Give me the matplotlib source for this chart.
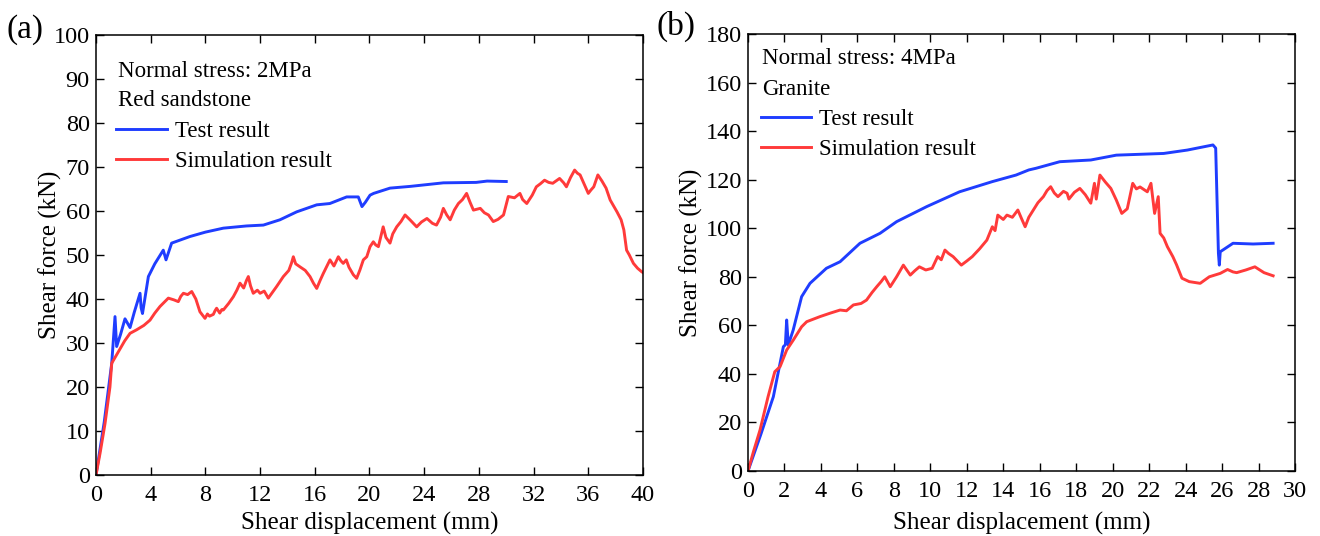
import matplotlib
matplotlib.use('Agg')
import matplotlib.pyplot as plt

# (a) red sandstone, normal stress 2 MPa
a_test_x = [0, 0.6, 1.15, 1.39, 1.51, 1.8, 2.12, 2.49, 2.8, 3.22, 3.3, 3.4, 3.83, 4.3, 4.92, 5.12, 5.53,
            6.87, 8.0, 9.31, 11.0, 12.24, 13.45, 14.67, 16.14, 17.1, 18.33, 19.18, 19.45, 19.7, 20.04,
            20.3, 21.5, 23.0, 25.4, 27.8, 28.6, 30.0]
a_test_y = [0, 12, 25.4, 36, 29.2, 32, 35.5, 33.5, 37, 41.3, 38, 36.7, 45.1, 48, 51.1, 48.9, 52.7,
            54.2, 55.2, 56.1, 56.6, 56.8, 58, 59.8, 61.4, 61.7, 63.2, 63.2, 61.0, 62, 63.6,
            64, 65.2, 65.6, 66.4, 66.5, 66.8, 66.7]

a_sim_x = [0, 0.3, 0.66, 1.02, 1.15, 1.63, 2.1, 2.49, 2.97, 3.5, 3.95, 4.3, 4.68, 5.0, 5.29, 5.7, 6.02,
           6.2, 6.39, 6.7, 7.0, 7.3, 7.6, 7.97, 8.15, 8.3, 8.58, 8.7, 8.82, 9.05, 9.2, 9.31, 9.7,
           10.04, 10.3, 10.53, 10.8, 11.0, 11.14, 11.3, 11.5, 11.8, 12.0, 12.3, 12.6, 12.9, 13.2,
           13.5, 13.7, 14.1, 14.3, 14.43, 14.6, 14.92, 15.3, 15.65, 15.9, 16.14, 16.4, 16.62, 16.9,
           17.11, 17.4, 17.72, 17.9, 18.08, 18.3, 18.5, 18.82, 19.06, 19.3, 19.55, 19.8, 20.04,
           20.28, 20.45, 20.65, 21.0, 21.2, 21.5, 21.7, 21.99, 22.3, 22.6, 22.96, 23.2, 23.45,
           23.8, 24.2, 24.6, 24.9, 25.2, 25.4, 25.65, 25.9, 26.2, 26.5, 26.8, 27.1, 27.35, 27.6,
           28.1, 28.4, 28.7, 29.05, 29.4, 29.8, 30.15, 30.6, 31.0, 31.2, 31.5, 31.9, 32.2, 32.5,
           32.8, 33.1, 33.4, 33.9, 34.2, 34.4, 34.7, 35.0, 35.2, 35.4, 35.7, 36.0, 36.2, 36.4, 36.7,
           37.0, 37.3, 37.6, 38.1, 38.4, 38.6, 38.8, 39.0, 39.3, 39.6, 39.9, 40.0]
a_sim_y = [0, 5, 11.7, 20, 25.4, 28, 30.5, 32.2, 33, 34, 35.2, 36.8, 38.3, 39.3, 40.2, 39.8, 39.4,
           40.6, 41.3, 41.0, 41.7, 40, 37.1, 35.6, 36.6, 36.1, 36.5, 37.3, 37.9, 36.8, 37.6, 37.5, 39,
           40.5, 42.0, 43.6, 42.5, 44.2, 45.1, 43, 41.3, 42.0, 41.3, 41.8, 40.2, 41.5, 42.8,
           44.2, 45.1, 46.5, 48.2, 49.6, 48.0, 47.3, 46.5, 45.1, 43.6, 42.4, 44.3, 45.8, 47.6,
           48.9, 47.5, 49.6, 48.7, 48.1, 48.9, 47.2, 45.5, 44.7, 46.6, 48.9, 49.6, 51.9,
           53, 52.3, 51.9, 56.4, 54, 52.7, 54.8, 56.4, 57.6, 59.1, 58, 57.2, 56.4,
           57.5, 58.3, 57.2, 56.8, 58.6, 60.6, 59.1, 58, 60.2, 61.7, 62.6, 64, 62.0, 60.2,
           60.6, 59.6, 59.1, 57.6, 58.1, 59.1, 63.3, 63, 64, 62.6, 61.7, 63.6, 65.5, 66.2,
           67, 66.5, 66.3, 67.4, 66.4, 65.5, 67.6, 69.3, 68.6, 68.2, 66.1, 64, 64.8, 65.5, 68.2,
           66.8, 65.2, 62.5, 59.8, 58.0, 55.7, 51.1, 50.0, 48.1, 47.0, 46.2, 46]

# (b) granite, normal stress 4 MPa
b_test_x = [0, 0.7, 1.39, 1.94, 2.05, 2.12, 2.21, 2.48, 2.94, 3.4, 4.3, 5.05, 6.14, 7.24, 8.15, 9.8,
            11.6, 13.4, 14.7, 15.4, 15.8, 17.1, 18.8, 20.2, 22.8, 24.1, 25.5, 25.65, 25.8, 25.85,
            25.9, 26.6, 27.7, 28.8]
b_test_y = [0, 15, 30.6, 51.2, 52, 62.2, 51.9, 58.1, 71.8, 77.3, 83.5, 86.2, 93.8, 97.9, 102.7, 108.9,
            115, 119.2, 121.9, 124, 124.7, 127.4, 128.1, 130.1, 130.8, 132.2, 134.3, 133, 89.7, 84.8,
            90.3, 93.8, 93.5, 93.8]

b_sim_x = [0, 0.3, 0.66, 1.1, 1.47, 1.76, 2.12, 2.49, 2.94, 3.22, 3.95, 4.5, 5.05, 5.4, 5.78, 6.2, 6.5,
           6.8, 7.06, 7.3, 7.5, 7.8, 8.15, 8.52, 8.9, 9.15, 9.4, 9.75, 10.1, 10.4, 10.6, 10.8, 11.0,
           11.25, 11.7, 12.0, 12.3, 12.7, 13.1, 13.4, 13.55, 13.7, 14.0, 14.2, 14.5, 14.8, 15.0,
           15.2, 15.4, 15.65, 15.9, 16.2, 16.4, 16.6, 16.8, 17.0, 17.3, 17.5, 17.6, 17.9, 18.2,
           18.5, 18.8, 19.0, 19.1, 19.3, 19.6, 19.9, 20.2, 20.5, 20.8, 21.1, 21.3, 21.5, 21.9,
           22.1, 22.3, 22.5, 22.6, 22.8, 23.0, 23.3, 23.5, 23.8, 24.2, 24.8, 25.3, 25.9, 26.3,
           26.6, 26.8, 27.3, 27.8, 28.3, 28.8]
b_sim_y = [0, 8, 16.9, 30.6, 40.9, 43, 49.8, 54, 59.4, 61.5, 63.6, 65.0, 66.3, 66.0, 68.4, 69.0, 70.4,
           73.5, 75.9, 78.0, 80, 75.9, 80, 84.8, 80.7, 82.5, 84.1, 82.8, 83.5, 88.3, 87.0, 91, 89.6,
           88.3, 84.8, 86.5, 88.3, 91.5, 95.1, 100.6, 99.0, 105.4, 103.6, 105.4, 104.5, 107.5, 104.0,
           100.6, 104.5, 107.5, 110.5, 113, 115.5, 117.1, 114.5, 113, 115.2, 114.4, 112, 114.8, 116.4,
           113.8, 110.3, 118.5, 112, 121.9, 119.0, 116.4, 111.6, 106.1, 108, 118.5, 116.2, 117, 115,
           118.5, 106.1, 113, 97.9, 96.0, 92.4, 88.3, 85.0, 79.4, 78, 77.3, 80, 81.4, 83,
           82.0, 81.7, 82.8, 84.1, 81.7, 80.4]

BLUE = '#1f3dff'
RED = '#ff3a3a'

plt.rcParams['font.family'] = ['Liberation Serif', 'DejaVu Serif']

TICK_FS = 17.5
LABEL_FS = 18
NOTE_FS = 16.5

fig = plt.figure(figsize=(13.2, 5.36), dpi=100)
ax1 = fig.add_axes([96 / 1320, 61 / 536, 547 / 1320, 440 / 536])
ax2 = fig.add_axes([748 / 1320, 65 / 536, 547 / 1320, 437 / 536])


def style(ax, xmax, xstep, ymax, ystep, ylab_x, xlab_y):
    ax.set_xlim(0, xmax)
    ax.set_ylim(0, ymax)
    ax.set_xticks(range(0, xmax + 1, xstep))
    ax.set_yticks(range(0, ymax + 1, ystep))
    ax.tick_params(direction='in', top=True, right=True, length=6, width=1, labelsize=TICK_FS)
    ax.tick_params(axis='x', pad=7)
    ax.tick_params(axis='y', pad=4.5)
    for s in ax.spines.values():
        s.set_linewidth(1.1)
    ax.set_xlabel('Shear displacement (mm)', fontsize=LABEL_FS)
    ax.set_ylabel('Shear force (kN)', fontsize=LABEL_FS)
    ax.yaxis.set_label_coords(ylab_x, 0.5)
    ax.xaxis.set_label_coords(0.5, xlab_y)


def notes(ax, x, lines, ys, spacing):
    for t, y in zip(lines, ys):
        ax.text(x, y, t, transform=ax.transAxes, fontsize=NOTE_FS, va='center')
    ax.legend(loc='upper left', bbox_to_anchor=(x - 0.003, ys[2]), frameon=False,
              fontsize=NOTE_FS, borderpad=0, borderaxespad=0, handlelength=2.2,
              handletextpad=0.35, labelspacing=spacing)


ax1.plot(a_test_x, a_test_y, color=BLUE, lw=2.1, label='Test result')
ax1.plot(a_sim_x, a_sim_y, color=RED, lw=2.1, label='Simulation result')
style(ax1, 40, 4, 100, 10, -0.063, -0.084)
notes(ax1, 0.040, ['Normal stress: 2MPa', 'Red sandstone'], (0.918, 0.852, 0.804), 0.39)
fig.text(6 / 1320, 1 - 30 / 536, '(a)', fontsize=24, va='center', ha='left')

ax2.plot(b_test_x, b_test_y, color=BLUE, lw=2.1, label='Test result')
ax2.plot(b_sim_x, b_sim_y, color=RED, lw=2.1, label='Simulation result')
style(ax2, 30, 2, 180, 20, -0.082, -0.094)
notes(ax2, 0.026, ['Normal stress: 4MPa', 'Granite'], (0.945, 0.872, 0.829), 0.39)
fig.text(656 / 1320, 1 - 26 / 536, '(b)', fontsize=24, va='center', ha='left')

fig.savefig('out.png', dpi=100)
